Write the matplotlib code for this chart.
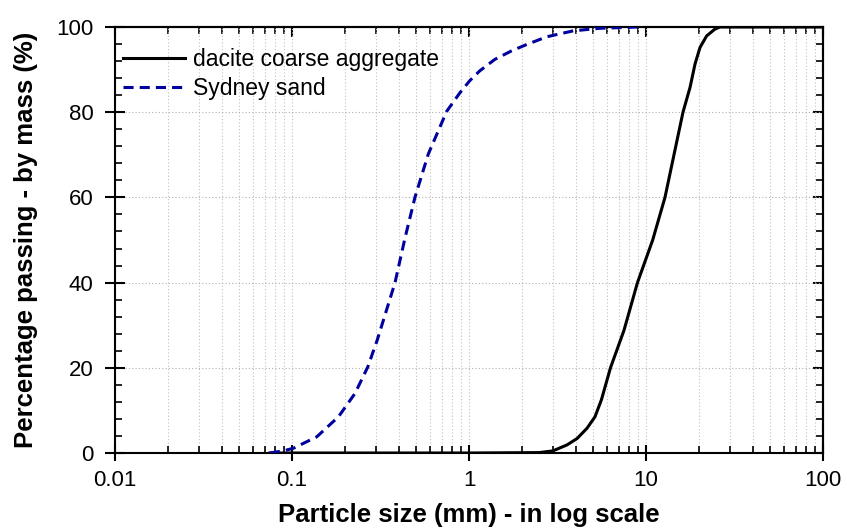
import matplotlib
matplotlib.use("Agg")
from matplotlib import pyplot as plt
from matplotlib.ticker import MultipleLocator, LogLocator, NullFormatter

# particle size (mm) and percentage passing
dacite_size = [0.075, 1.0, 2.5, 2.98, 3.58, 4.08, 4.64, 5.15, 5.60, 6.30, 7.51,
               8.95, 10.91, 12.80, 14.39, 16.18, 17.73, 18.92, 20.19, 22.0,
               24.5, 26.2, 100.0]
dacite_pass = [0.0, 0.0, 0.1, 0.5, 1.9, 3.4, 5.8, 8.5, 12.5, 20.0, 28.8,
               40.0, 50.0, 60.0, 70.0, 80.0, 85.8, 91.3, 95.2, 97.9,
               99.5, 100.0, 100.0]

sand_size = [0.075, 0.0892, 0.1016, 0.138, 0.183, 0.227, 0.268, 0.303, 0.382,
             0.434, 0.495, 0.589, 0.748, 0.89, 1.01, 1.15, 1.40, 1.74, 2.12,
             2.75, 3.88, 5.5, 9.0]
sand_pass = [0.0, 0.5, 1.1, 3.8, 8.5, 14.0, 20.2, 26.5, 40.0,
             50.3, 60.0, 70.2, 80.2, 84.6, 87.4, 89.7, 92.4, 94.4, 95.9,
             97.7, 99.1, 99.7, 100.0]

y_ticks = [0, 20, 40, 60, 80, 100]
x_ticks = [0.01, 0.1, 1, 10, 100]
x_tick_labels = ["0.01", "0.1", "1", "10", "100"]


def main():
    plt.rcParams["font.family"] = ["Liberation Sans", "DejaVu Sans"]
    fig = plt.figure(figsize=(8.47, 5.28), dpi=100)
    ax = fig.add_axes([115 / 847, 1 - 453 / 528, 708 / 847, 426 / 528])

    ax.plot(dacite_size, dacite_pass, color="black", lw=2.2,
            label="dacite coarse aggregate", zorder=3,
            solid_joinstyle="round")
    ax.plot(sand_size, sand_pass, color="#00009e", lw=2.2, ls=(0, (3.3, 2.0)),
            label="Sydney sand", zorder=3)

    ax.set_xscale("log")
    ax.set_xlim(0.01, 100)
    ax.set_ylim(0, 100)
    ax.set_xticks(x_ticks, x_tick_labels)
    ax.set_yticks(y_ticks)
    ax.yaxis.set_minor_locator(MultipleLocator(4))
    ax.xaxis.set_minor_locator(LogLocator(base=10, subs=range(2, 10)))
    ax.xaxis.set_minor_formatter(NullFormatter())

    ax.grid(True, which="major", axis="y", color="#b0b0b0", ls=(0, (1, 2)), lw=0.8)
    ax.grid(True, which="both", axis="x", color="#c0c0c0", ls=(0, (1, 2)), lw=0.8)
    ax.set_axisbelow(True)

    for s in ax.spines.values():
        s.set_linewidth(1.5)
    ax.tick_params(which="major", direction="inout", width=1.5, labelsize=16)
    ax.xaxis.set_tick_params(which="major", length=12, pad=6)
    ax.yaxis.set_tick_params(which="major", length=15, pad=8)
    ax.tick_params(which="minor", direction="in", length=5, width=1.2)

    top = ax.secondary_xaxis("top")
    top.set_xticks(x_ticks)
    top.xaxis.set_minor_locator(LogLocator(base=10, subs=range(2, 10)))
    top.tick_params(which="major", direction="in", length=7, width=1.5,
                    labeltop=False)
    top.tick_params(which="minor", direction="in", length=5, width=1.2)
    top.xaxis.set_minor_formatter(NullFormatter())
    top.spines["top"].set_linewidth(1.5)

    right = ax.secondary_yaxis("right")
    right.set_yticks(y_ticks)
    right.yaxis.set_minor_locator(MultipleLocator(4))
    right.tick_params(which="major", direction="in", length=7, width=1.5,
                      labelright=False)
    right.tick_params(which="minor", direction="in", length=5, width=1.2)
    right.spines["right"].set_linewidth(1.5)

    ax.set_xlabel("Particle size (mm) - in log scale", fontsize=18.5,
                  fontweight="bold", labelpad=9)
    ax.set_ylabel("Percentage passing - by mass (%)", fontsize=18.5,
                  fontweight="bold", labelpad=13)

    ax.legend(loc="upper left", frameon=False, fontsize=16.5, handlelength=2.7,
              handletextpad=0.35, labelspacing=0.25, borderaxespad=0,
              borderpad=0, bbox_to_anchor=(0.0113, 0.951))

    fig.savefig("out.png", dpi=100)


if __name__ == "__main__":
    main()
